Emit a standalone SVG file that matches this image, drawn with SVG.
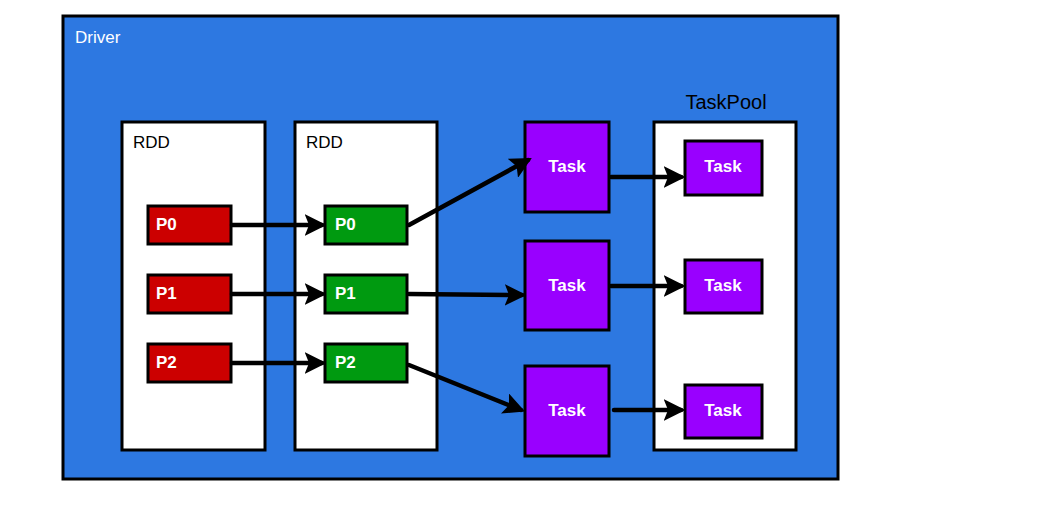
<svg xmlns="http://www.w3.org/2000/svg" width="1050" height="512" viewBox="0 0 1050 512">
<style>
.box{stroke:#000;stroke-width:3}
.lbl{font-family:"Liberation Sans",Arial,sans-serif;font-size:17px}
.w{fill:#fff}
.b{fill:#000}
.conn path{fill:none;stroke:#000;stroke-width:4.5;stroke-linecap:round}
</style>
<defs>
<marker id="ah" viewBox="0 0 10 10" refX="8" refY="5" markerWidth="4.8" markerHeight="4.8" orient="auto" markerUnits="strokeWidth">
<path d="M0,0 L10,5 L0,10 L2,5 Z" fill="#000"/>
</marker>
</defs>
<rect width="1050" height="512" fill="#fff"/>
<g id="driver">
<rect class="box" x="63" y="16" width="775" height="463" fill="#2d78e1"/>
<text class="lbl w" x="75" y="43">Driver</text>
</g>
<g id="rdd1">
<rect class="box" x="122" y="122" width="143" height="328" fill="#fff"/>
<text class="lbl b" x="133" y="148">RDD</text>
</g>
<g id="rdd2">
<rect class="box" x="295" y="122" width="142" height="328" fill="#fff"/>
<text class="lbl b" x="306" y="148">RDD</text>
</g>
<g id="taskpool">
<rect class="box" x="654" y="122" width="142" height="328" fill="#fff"/>
<text class="lbl b" x="726" y="109" text-anchor="middle" style="font-size:20px">TaskPool</text>
</g>
<g id="r-p0"><rect class="box" x="148" y="206" width="83" height="38" fill="#cc0000"/><text class="lbl w" x="156" y="230" font-weight="bold">P0</text></g>
<g id="r-p1"><rect class="box" x="148" y="275" width="83" height="38" fill="#cc0000"/><text class="lbl w" x="156" y="299" font-weight="bold">P1</text></g>
<g id="r-p2"><rect class="box" x="148" y="344" width="83" height="38" fill="#cc0000"/><text class="lbl w" x="156" y="368" font-weight="bold">P2</text></g>
<g id="g-p0"><rect class="box" x="325" y="206" width="82" height="38" fill="#009a10"/><text class="lbl w" x="335" y="230" font-weight="bold">P0</text></g>
<g id="g-p1"><rect class="box" x="325" y="275" width="82" height="38" fill="#009a10"/><text class="lbl w" x="335" y="299" font-weight="bold">P1</text></g>
<g id="g-p2"><rect class="box" x="325" y="344" width="82" height="38" fill="#009a10"/><text class="lbl w" x="335" y="368" font-weight="bold">P2</text></g>
<g id="task1"><rect class="box" x="525" y="122" width="84" height="90" fill="#9900ff"/><text class="lbl w" x="567" y="172" text-anchor="middle" font-weight="bold">Task</text></g>
<g id="task2"><rect class="box" x="525" y="241" width="84" height="89" fill="#9900ff"/><text class="lbl w" x="567" y="291" text-anchor="middle" font-weight="bold">Task</text></g>
<g id="task3"><rect class="box" x="525" y="366" width="84" height="90" fill="#9900ff"/><text class="lbl w" x="567" y="416" text-anchor="middle" font-weight="bold">Task</text></g>
<g id="ptask1"><rect class="box" x="685" y="141" width="77" height="54" fill="#9900ff"/><text class="lbl w" x="723" y="172" text-anchor="middle" font-weight="bold">Task</text></g>
<g id="ptask2"><rect class="box" x="685" y="260" width="77" height="53" fill="#9900ff"/><text class="lbl w" x="723" y="291" text-anchor="middle" font-weight="bold">Task</text></g>
<g id="ptask3"><rect class="box" x="685" y="385" width="77" height="53" fill="#9900ff"/><text class="lbl w" x="723" y="416" text-anchor="middle" font-weight="bold">Task</text></g>
<g id="connectors" class="conn">
<path d="M232,225 L322,225" marker-end="url(#ah)"/>
<path d="M232,294 L322,294" marker-end="url(#ah)"/>
<path d="M232,363 L322,363" marker-end="url(#ah)"/>
<path d="M409,225 L528,160" marker-end="url(#ah)"/>
<path d="M409,294 L522,295" marker-end="url(#ah)"/>
<path d="M409,365 L521,410" marker-end="url(#ah)"/>
<path d="M611,177 L681,177" marker-end="url(#ah)"/>
<path d="M611,286 L681,286" marker-end="url(#ah)"/>
<path d="M614,410 L681,410" marker-end="url(#ah)"/>
</g>
</svg>
